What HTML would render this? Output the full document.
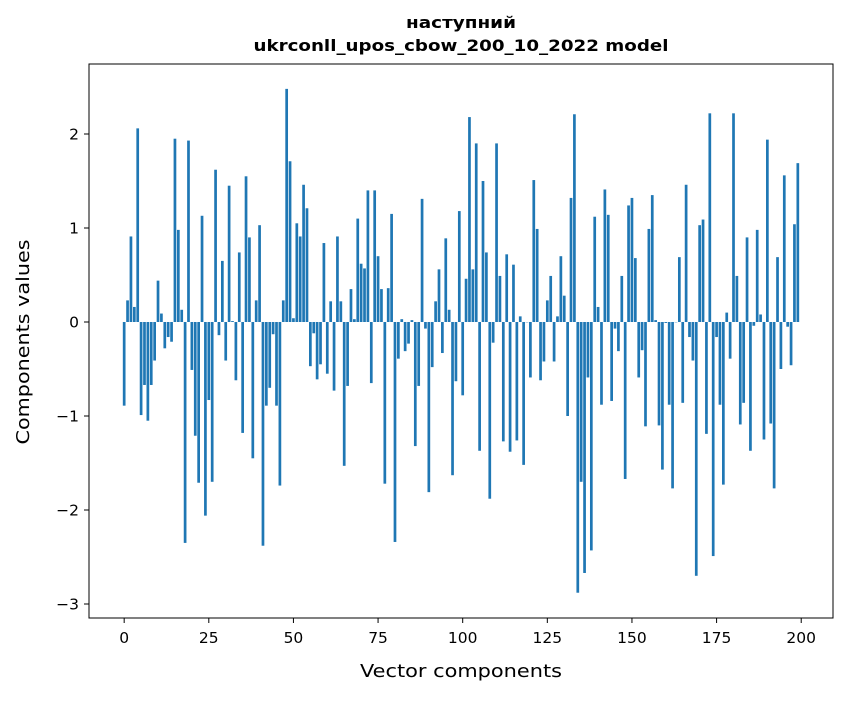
<!DOCTYPE html>
<html><head><meta charset="utf-8"><style>
body{margin:0;background:#fff;}
svg text{font-family:"DejaVu Sans","Liberation Sans",sans-serif;fill:#000;}
</style></head><body>
<svg id="chart" width="847" height="696" xmlns="http://www.w3.org/2000/svg">
<rect width="847" height="696" fill="#fff"/>
<text x="461" y="28" text-anchor="middle" font-size="16" font-weight="bold" textLength="110" lengthAdjust="spacingAndGlyphs">наступний</text>
<text x="461" y="51" text-anchor="middle" font-size="16" font-weight="bold" textLength="415" lengthAdjust="spacingAndGlyphs">ukrconll_upos_cbow_200_10_2022 model</text>
<g id="bars"></g>
<g id="axes"></g>
<rect x="89" y="64" width="744" height="554" fill="none" stroke="#000" stroke-width="1"/>
<text x="461" y="677" text-anchor="middle" font-size="18" textLength="202" lengthAdjust="spacingAndGlyphs">Vector components</text>
<text transform="translate(29,342) rotate(-90)" text-anchor="middle" font-size="18" textLength="205" lengthAdjust="spacingAndGlyphs">Components values</text>
</svg>
<script>
const values = [-0.89,0.23,0.91,0.16,2.06,-0.99,-0.67,-1.05,-0.67,-0.41,
0.44,0.09,-0.28,-0.16,-0.21,1.95,0.98,0.13,-2.35,1.93,
-0.51,-1.21,-1.71,1.13,-2.06,-0.83,-1.70,1.62,-0.14,0.65,
-0.41,1.45,0.01,-0.62,0.74,-1.18,1.55,0.90,-1.45,0.23,
1.03,-2.38,-0.89,-0.70,-0.13,-0.89,-1.74,0.23,2.48,1.71,
0.04,1.05,0.91,1.46,1.21,-0.47,-0.12,-0.61,-0.45,0.84,
-0.55,0.22,-0.73,0.91,0.22,-1.53,-0.68,0.35,0.03,1.10,
0.62,0.57,1.40,-0.65,1.40,0.70,0.35,-1.72,0.36,1.15,
-2.34,-0.39,0.03,-0.31,-0.23,0.02,-1.32,-0.68,1.31,-0.07,
-1.81,-0.48,0.22,0.56,-0.33,0.89,0.13,-1.63,-0.63,1.18,
-0.78,0.46,2.18,0.56,1.90,-1.37,1.50,0.74,-1.88,-0.22,
1.90,0.49,-1.27,0.72,-1.38,0.61,-1.26,0.06,-1.52,0.00,
-0.59,1.51,0.99,-0.62,-0.42,0.23,0.49,-0.42,0.06,0.70,
0.28,-1.00,1.32,2.21,-2.88,-1.70,-2.67,-0.59,-2.43,1.12,
0.16,-0.88,1.41,1.14,-0.84,-0.07,-0.31,0.49,-1.67,1.24,
1.32,0.68,-0.59,-0.30,-1.11,0.99,1.35,0.02,-1.10,-1.57,
-0.01,-0.88,-1.77,0.00,0.69,-0.86,1.46,-0.16,-0.41,-2.70,
1.03,1.09,-1.19,2.22,-2.49,-0.16,-0.88,-1.73,0.10,-0.39,
2.22,0.49,-1.09,-0.86,0.90,-1.37,-0.04,0.98,0.08,-1.25,
1.94,-1.08,-1.77,0.69,-0.50,1.56,-0.05,-0.46,1.04,1.69];
const xTicks = [0,25,50,75,100,125,150,175,200];
const yTicks = [-3,-2,-1,0,1,2];
const yTickLabels = ["\u22123","\u22122","\u22121","0","1","2"];

const NS="http://www.w3.org/2000/svg";
const X0=89,X1=833,XMIN=-10.39,XMAX=209.39;
const sx=v=>X0+(v-XMIN)/(XMAX-XMIN)*(X1-X0);
const sy=v=>322-v*94;
const bars=document.getElementById('bars');
const axes=document.getElementById('axes');
values.forEach((v,i)=>{
  const r=document.createElementNS(NS,'rect');
  
  
  const x=sx(i-0.4), w=sx(i+0.4)-x;
  const y=Math.min(sy(v),sy(0)), h=Math.abs(sy(v)-sy(0));
  r.setAttribute('x',x);r.setAttribute('y',y);r.setAttribute('width',w);r.setAttribute('height',Math.max(h,0.3));
  r.setAttribute('fill','#1f77b4');
  bars.appendChild(r);
});
xTicks.forEach(t=>{
  const x=sx(t);
  const l=document.createElementNS(NS,'line');
  
  
  l.setAttribute('x1',x);l.setAttribute('x2',x);l.setAttribute('y1',618);l.setAttribute('y2',623);l.setAttribute('stroke','#000');
  axes.appendChild(l);
  const tx=document.createElementNS(NS,'text');
  
  
  tx.setAttribute('x',x);tx.setAttribute('y',643);tx.setAttribute('text-anchor','middle');tx.setAttribute('font-size','15.5');
  tx.textContent=t;axes.appendChild(tx);
});
yTicks.forEach((t,k)=>{
  const y=sy(t);
  const l=document.createElementNS(NS,'line');
  
  
  l.setAttribute('x1',84);l.setAttribute('x2',89);l.setAttribute('y1',y);l.setAttribute('y2',y);l.setAttribute('stroke','#000');
  axes.appendChild(l);
  const tx=document.createElementNS(NS,'text');
  
  
  tx.setAttribute('x',79);tx.setAttribute('y',y+5.5);tx.setAttribute('text-anchor','end');tx.setAttribute('font-size','15.5');
  tx.textContent=yTickLabels[k];axes.appendChild(tx);
});
</script>
</body></html>
